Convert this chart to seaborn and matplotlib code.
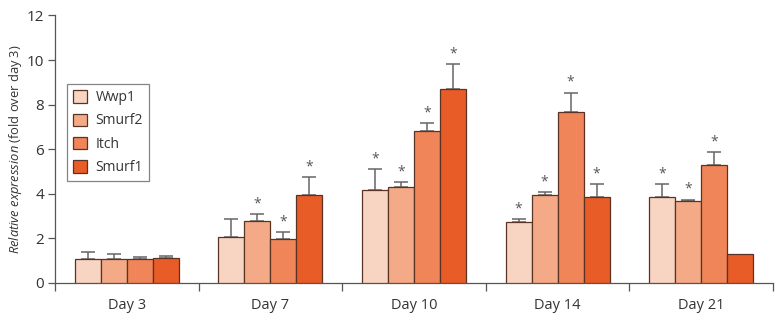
import numpy as np
import pandas as pd
import matplotlib
matplotlib.use("Agg")
import matplotlib.pyplot as plt
import seaborn as sns
from matplotlib.patches import Patch

# Values
days = ["Day 3", "Day 7", "Day 10", "Day 14", "Day 21"]
genes = ["Wwp1", "Smurf2", "Itch", "Smurf1"]
wwp1 = [1.08, 2.07, 4.15, 2.72, 3.87]
smurf2 = [1.07, 2.79, 4.30, 3.94, 3.66]
itch = [1.06, 1.98, 6.80, 7.68, 5.31]
smurf1 = [1.14, 3.93, 8.68, 3.87, 1.28]
wwp1_err = [0.29, 0.80, 0.95, 0.14, 0.58]
smurf2_err = [0.21, 0.29, 0.22, 0.14, 0.08]
itch_err = [0.09, 0.30, 0.38, 0.86, 0.56]
smurf1_err = [0.09, 0.83, 1.15, 0.58, 0.0]
wwp1_sig = [False, False, True, True, True]
smurf2_sig = [False, True, True, True, True]
itch_sig = [False, True, True, True, True]
smurf1_sig = [False, True, True, True, False]

palette = ["#F8D4C2", "#F4AA87", "#EF8559", "#E85C28"]

rows = []
for g, vals, errs, sig in zip(genes, [wwp1, smurf2, itch, smurf1],
                              [wwp1_err, smurf2_err, itch_err, smurf1_err],
                              [wwp1_sig, smurf2_sig, itch_sig, smurf1_sig]):
    for d, v, e, s in zip(days, vals, errs, sig):
        rows.append({"day": d, "gene": g, "value": v, "err": e, "sig": s})
df = pd.DataFrame(rows)

sns.set_style("ticks")
plt.rcParams["font.family"] = ["Open Sans", "DejaVu Sans"]
plt.rcParams["mathtext.fontset"] = "custom"
plt.rcParams["mathtext.it"] = "Open Sans:italic"
plt.rcParams["mathtext.rm"] = "Open Sans"

fig = plt.figure(figsize=(7.84, 3.27), dpi=100)
ax = fig.add_axes([55 / 784, 44 / 327, 718 / 784, 267.6 / 327])

sns.barplot(data=df, x="day", y="value", hue="gene", order=days, hue_order=genes,
            palette=palette, errorbar=None, width=0.724, edgecolor="#5b3324",
            linewidth=0.9, saturation=1, ax=ax, legend=False, zorder=3)

# error bars (upper only) and significance stars from the bar geometry
for gi, g in enumerate(genes):
    cont = ax.containers[gi]
    sub = df[df["gene"] == g].set_index("day").loc[days]
    for bar, (_, r) in zip(cont.patches, sub.iterrows()):
        xc = bar.get_x() + bar.get_width() / 2
        top = bar.get_height()
        if r["err"] > 0:
            ax.errorbar(xc, top, yerr=[[0], [r["err"]]], fmt="none", ecolor="#666666",
                        elinewidth=1.1, capsize=5, capthick=1.1, zorder=2)
        if r["sig"]:
            ax.text(xc, top + r["err"] + 0.12, "*", ha="center", va="bottom",
                    fontsize=10, color="#555555")

ax.set_xlim(-0.5, 4.5)
ax.set_ylim(0, 12)
ax.set_yticks(range(0, 13, 2))
ax.set_xlabel("")
ax.set_ylabel(r"$\it{Relative\ expression}$ (fold over day 3)", fontsize=9.3,
              color="#333333", labelpad=2)
ax.tick_params(axis="y", direction="out", length=5, width=0.9, colors="#555555",
               labelcolor="#333333", labelsize=11, pad=3)
ax.tick_params(axis="x", which="major", length=0, labelsize=10.5, labelcolor="#333333", pad=11)
ax.set_xticks(np.arange(-0.5, 5.0, 1.0), minor=True)
ax.tick_params(axis="x", which="minor", direction="out", length=6, width=0.9, colors="#555555")
for s in ["top", "right"]:
    ax.spines[s].set_visible(False)
for s in ["left", "bottom"]:
    ax.spines[s].set_color("#555555")
    ax.spines[s].set_linewidth(0.9)

handles = [Patch(facecolor=c, edgecolor="#5b3324", linewidth=0.9) for c in palette]
leg = ax.legend(handles, genes, loc="upper left", bbox_to_anchor=(0.017, 0.744),
                borderaxespad=0, fontsize=10, handlelength=1.0, handleheight=1.0,
                labelspacing=0.6, handletextpad=0.6, borderpad=0.45,
                fancybox=False, frameon=True)
leg.get_frame().set_edgecolor("#666666")
leg.get_frame().set_linewidth(0.9)
for t in leg.get_texts():
    t.set_color("#333333")

fig.savefig("out.png", dpi=100)
